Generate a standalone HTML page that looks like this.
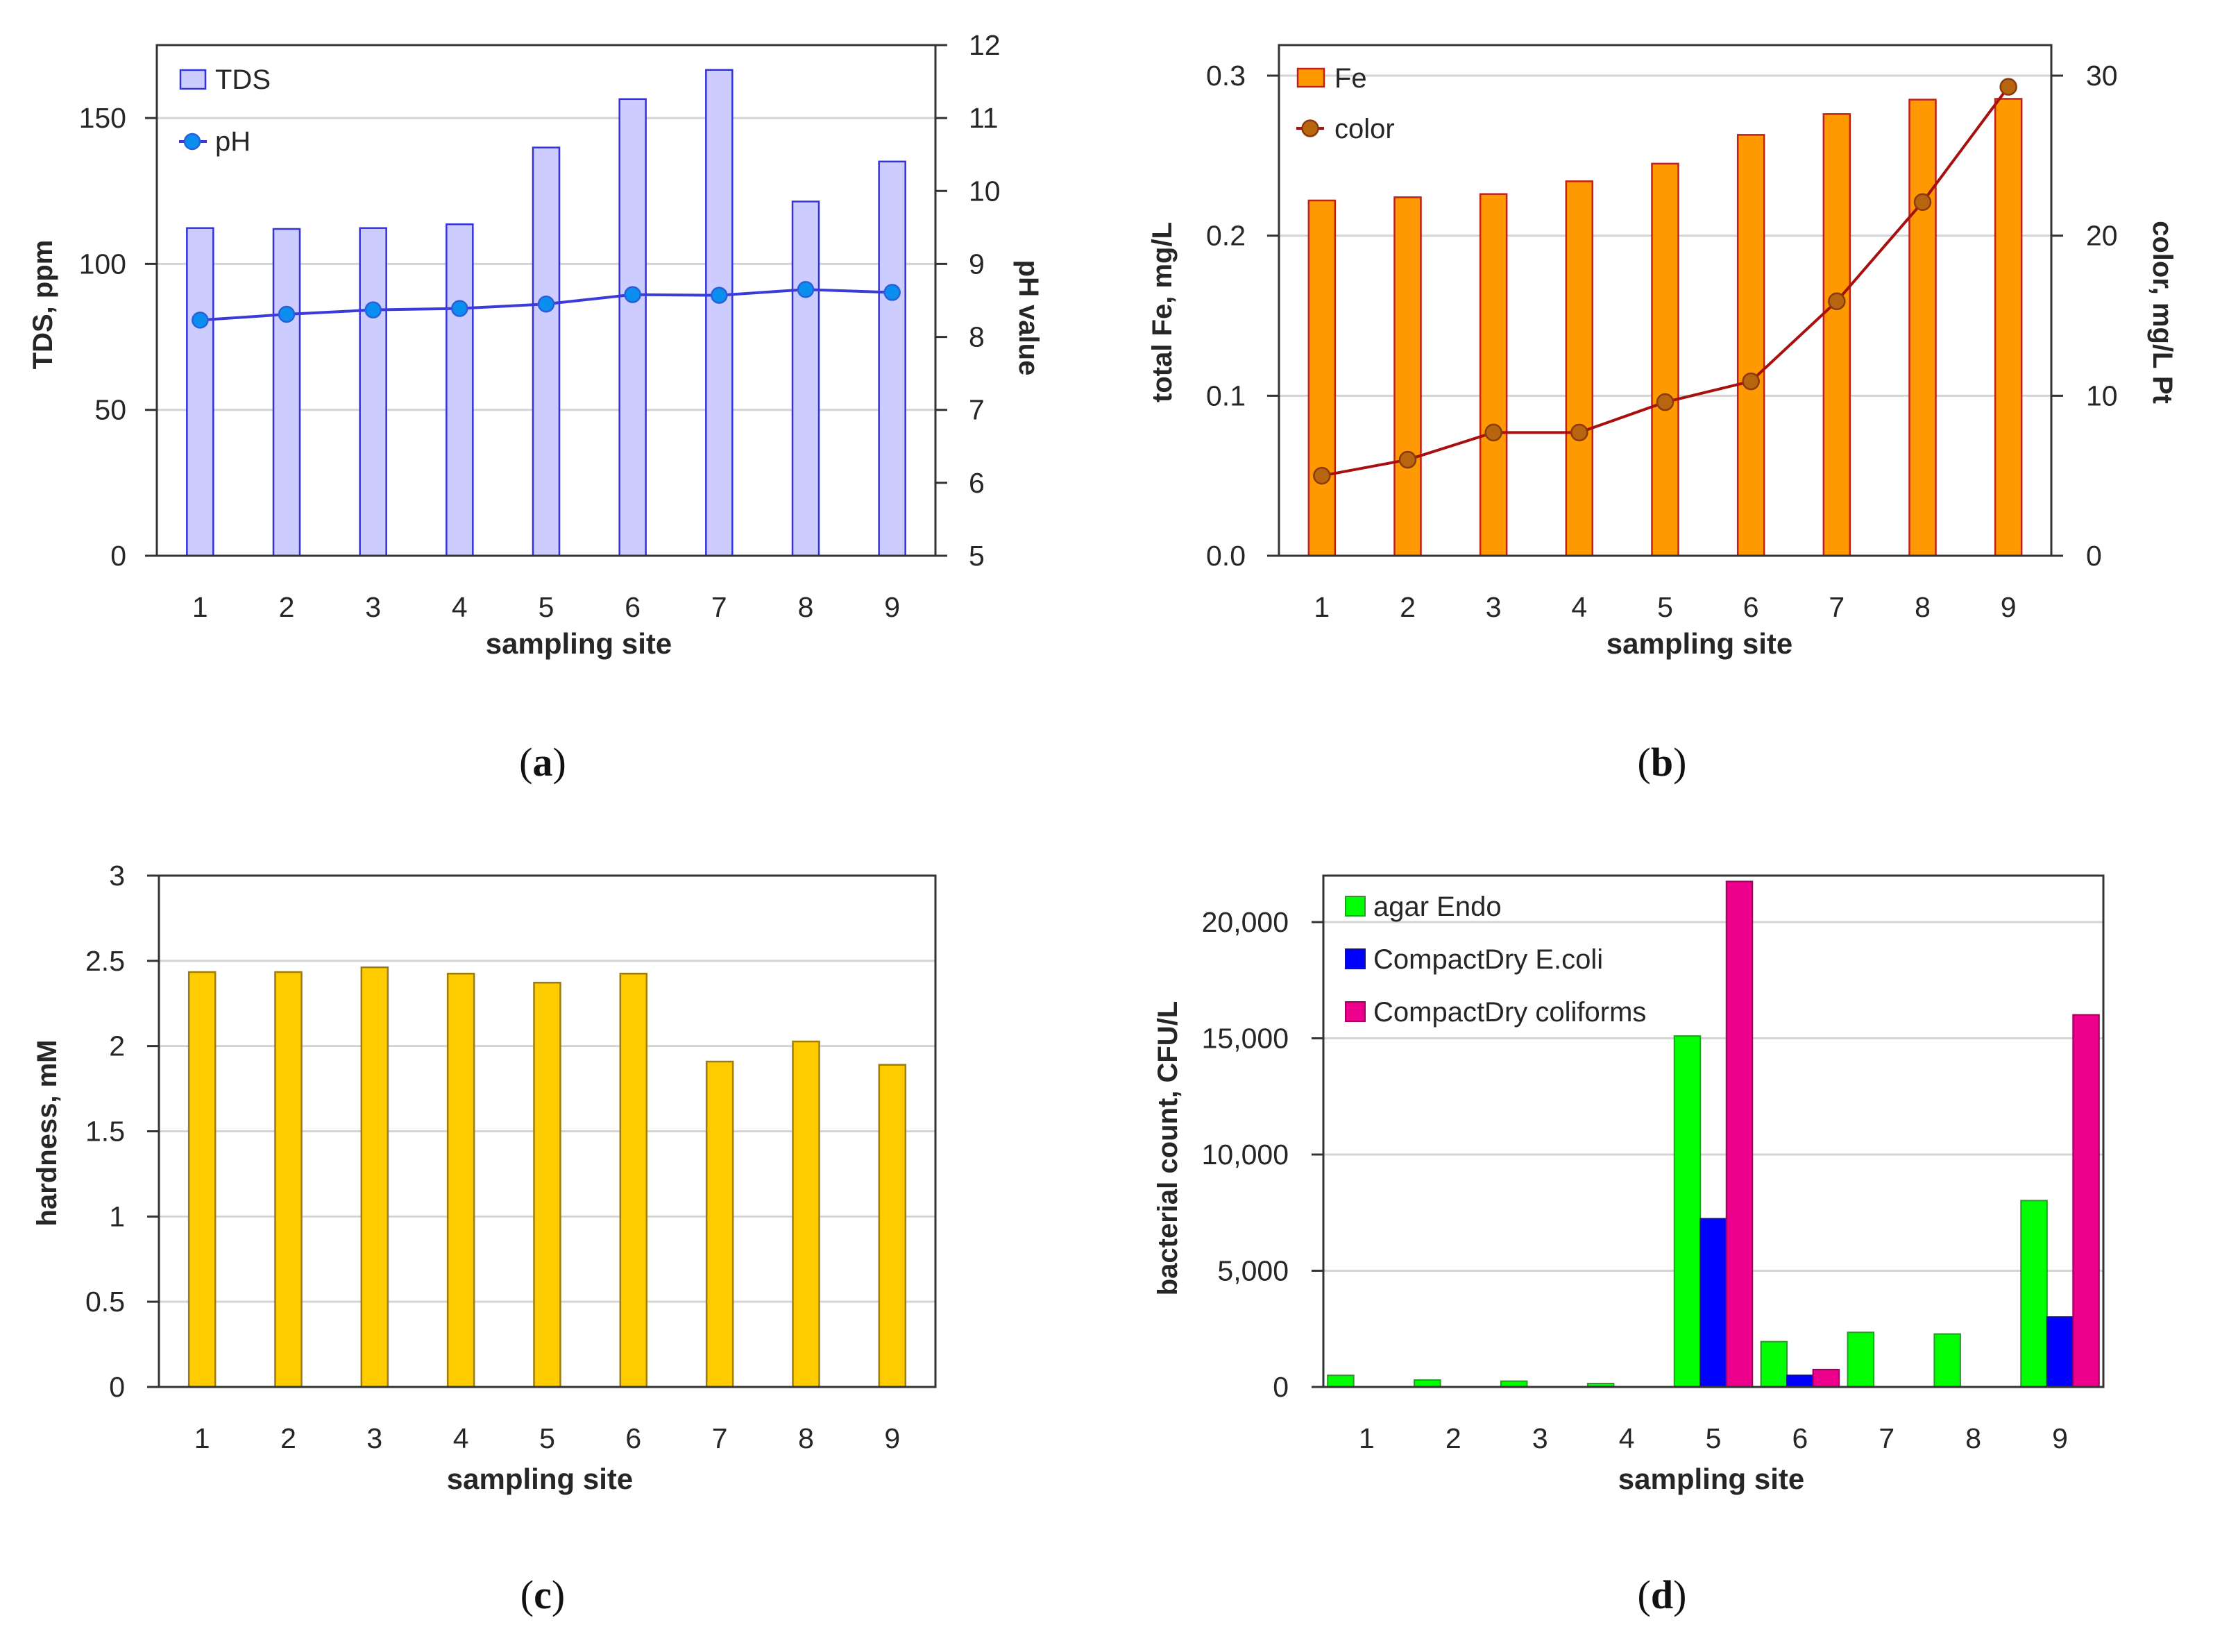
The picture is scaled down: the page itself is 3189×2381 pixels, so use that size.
<!DOCTYPE html>
<html><head><meta charset="utf-8"><style>
html,body{margin:0;padding:0;background:#fff;}
svg{display:block;font-family:"Liberation Sans",sans-serif;}
</style></head><body>
<svg id="fig" width="3189" height="2381" viewBox="0 0 3189 2381" xmlns="http://www.w3.org/2000/svg"></svg>
<script>
const sites = ["1","2","3","4","5","6","7","8","9"];
const tdsValues = [112.3, 112, 112.3, 113.6, 139.9, 156.5, 166.5, 121.4, 135.1];
const phValues = [8.23, 8.31, 8.37, 8.39, 8.45, 8.58, 8.57, 8.65, 8.61];
const tdsTicks = [0, 50, 100, 150];
const phTicks = [5, 6, 7, 8, 9, 10, 11, 12];
const feValues = [0.222, 0.224, 0.226, 0.234, 0.245, 0.263, 0.276, 0.285, 0.2855];
const colorValues = [5.0, 6.0, 7.7, 7.7, 9.6, 10.9, 15.9, 22.1, 29.3];
const feTicks = [0, 0.1, 0.2, 0.3];
const feTickLabels = ["0.0", "0.1", "0.2", "0.3"];
const colorTicks = [0, 10, 20, 30];
const hardValues = [2.434, 2.434, 2.462, 2.425, 2.372, 2.425, 1.909, 2.027, 1.890];
const hardTicks = [0, 0.5, 1, 1.5, 2, 2.5, 3];
const hardTickLabels = ["0", "0.5", "1", "1.5", "2", "2.5", "3"];
const endoValues = [500, 300, 250, 150, 15100, 1950, 2350, 2280, 8020];
const ecoliValues = [0, 0, 0, 0, 7240, 500, 0, 0, 3010];
const coliValues = [0, 0, 0, 0, 21750, 750, 0, 0, 16010];
const bactTicks = [0, 5000, 10000, 15000, 20000];
const bactTickLabels = ["0", "5,000", "10,000", "15,000", "20,000"];

const NS = "http://www.w3.org/2000/svg";
const svg = document.getElementById("fig");
function el(tag, attrs, parent, text) {
  const e = document.createElementNS(NS, tag);
  for (const k in attrs) e.setAttribute(k, attrs[k]);
  if (text !== undefined) e.textContent = text;
  (parent || svg).appendChild(e);
  return e;
}
const TXT = "#262626";
function linScale(d0, d1, r0, r1) { return v => r0 + (v - d0) / (d1 - d0) * (r1 - r0); }

function makeFrame(g, L, R, T, B) {
  const f = el("rect", {x: L, y: T, width: R - L, height: B - T, fill: "none", stroke: "#333", "stroke-width": 3}, g);
  
  
}
function gridAndLeft(g, L, R, y, ticks, labels, labelRight, grid) {
  ticks.forEach((t, i) => {
    const yy = y(t);
    if (grid && t !== 0) {
      const gl = el("line", {x1: L, x2: R, y1: yy, y2: yy, stroke: "#d4d4d4", "stroke-width": 3}, g);
      
      
    }
    const tk = el("line", {x1: L - 17, x2: L, y1: yy, y2: yy, stroke: "#333", "stroke-width": 3}, g);
    
    
    const tl = el("text", {x: labelRight, y: yy + 14, "text-anchor": "end", "font-size": 41, fill: TXT}, g, labels[i]);
    
    
  });
}
function rightTicks(g, R, y, ticks, labels, labelLeft) {
  ticks.forEach((t, i) => {
    const yy = y(t);
    const tk = el("line", {x1: R, x2: R + 17, y1: yy, y2: yy, stroke: "#333", "stroke-width": 3}, g);
    
    
    const tl = el("text", {x: labelLeft, y: yy + 14, "text-anchor": "start", "font-size": 41, fill: TXT}, g, labels[i]);
    
    
  });
}
function xLabels(g, B, cx) {
  sites.forEach((s, i) => {
    const t = el("text", {x: cx(i), y: B + 88, "text-anchor": "middle", "font-size": 41, fill: TXT}, g, s);
    
    
  });
}
function titles(g, xTitleX, xTitleY, yTitle, yx, yy, rot) {
  const xt = el("text", {x: xTitleX, y: xTitleY, "text-anchor": "middle", "font-size": 42, "font-weight": "bold", fill: TXT}, g, "sampling site");
  
  
  const yt = el("text", {x: 0, y: 0, transform: `translate(${yx},${yy}) rotate(${rot})`, "text-anchor": "middle", "font-size": 40, "font-weight": "bold", fill: TXT, "dominant-baseline": "central"}, g, yTitle);
  
  
}
function panelLabel(g, x, y, letter) {
  const t = el("text", {x: x, y: y, "text-anchor": "middle", "font-size": 58, "font-family": "Liberation Serif, serif", fill: "#111"}, g);
  
  
  el("tspan", {}, t, "(");
  el("tspan", {"font-weight": "bold"}, t, letter);
  el("tspan", {}, t, ")");
}

/* ---------- Panel (a) ---------- */
(function () {
  const g = el("g", {});
  
  
  const L = 226, R = 1348, T = 65, B = 801;
  const y = linScale(0, 175, B, T);
  const y2 = linScale(5, 12, B, T);
  const bw = (R - L) / 9;
  const cx = i => L + bw * (i + 0.5);
  gridAndLeft(g, L, R, y, tdsTicks, tdsTicks.map(String), 182, true);
  tdsValues.forEach((v, i) => {
    const b = el("rect", {x: cx(i) - 19, y: y(v), width: 38, height: B - y(v), fill: "#ccccff", stroke: "#3333dd", "stroke-width": 2.5}, g);
    
    
  });
  makeFrame(g, L, R, T, B);
  rightTicks(g, R, y2, phTicks, phTicks.map(String), 1396);
  const pts = phValues.map((v, i) => `${cx(i)},${y2(v)}`).join(" ");
  const ln = el("polyline", {points: pts, fill: "none", stroke: "#3b3bdc", "stroke-width": 4}, g);
  
  
  phValues.forEach((v, i) => {
    const c = el("circle", {cx: cx(i), cy: y2(v), r: 11, fill: "#0a8ef0", stroke: "#2b5fd8", "stroke-width": 2.5}, g);
    
    
  });
  xLabels(g, B, cx);
  titles(g, 834, 942, "TDS, ppm", 62, 439, -90);
  const rt = el("text", {x: 0, y: 0, transform: "translate(1482,458) rotate(90)", "text-anchor": "middle", "font-size": 40, "font-weight": "bold", fill: TXT, "dominant-baseline": "central"}, g, "pH value");
  
  
  const lg = el("g", {}, g);
  
  
  const s1 = el("rect", {x: 260, y: 101, width: 36, height: 27, fill: "#ccccff", stroke: "#3333dd", "stroke-width": 2.5}, lg);
  
  
  const t1 = el("text", {x: 310, y: 128, "font-size": 40, fill: TXT}, lg, "TDS");
  
  
  el("line", {x1: 258, x2: 298, y1: 204, y2: 204, stroke: "#3b3bdc", "stroke-width": 4}, lg);
  el("circle", {cx: 277, cy: 204, r: 11, fill: "#0a8ef0", stroke: "#2b5fd8", "stroke-width": 2.5}, lg);
  const t2 = el("text", {x: 310, y: 217, "font-size": 40, fill: TXT}, lg, "pH");
  
  
  panelLabel(g, 782, 1118, "a");
})();

/* ---------- Panel (b) ---------- */
(function () {
  const g = el("g", {});
  
  
  const L = 1843, R = 2956, T = 65, B = 801;
  const pxPer = (B - 109) / 0.3;
  const y = v => B - v * pxPer;
  const y2 = v => B - v / 100 * pxPer;
  const bw = (R - L) / 9;
  const cx = i => L + bw * (i + 0.5);
  gridAndLeft(g, L, R, y, feTicks, feTickLabels, 1795, true);
  feValues.forEach((v, i) => {
    const b = el("rect", {x: cx(i) - 19, y: y(v), width: 38, height: B - y(v), fill: "#ff9900", stroke: "#c0201a", "stroke-width": 2.5}, g);
    
    
  });
  makeFrame(g, L, R, T, B);
  rightTicks(g, R, y2, colorTicks, colorTicks.map(String), 3006);
  const pts = colorValues.map((v, i) => `${cx(i)},${y2(v)}`).join(" ");
  const ln = el("polyline", {points: pts, fill: "none", stroke: "#a80f0f", "stroke-width": 4}, g);
  
  
  colorValues.forEach((v, i) => {
    const c = el("circle", {cx: cx(i), cy: y2(v), r: 11.5, fill: "#b8650f", stroke: "#8a3a10", "stroke-width": 2.5}, g);
    
    
  });
  xLabels(g, B, cx);
  titles(g, 2449, 942, "total Fe, mg/L", 1675, 450, -90);
  const rt = el("text", {x: 0, y: 0, transform: "translate(3116,450) rotate(90)", "text-anchor": "middle", "font-size": 40, "font-weight": "bold", fill: TXT, "dominant-baseline": "central"}, g, "color, mg/L Pt");
  
  
  const lg = el("g", {}, g);
  
  
  const s1 = el("rect", {x: 1870, y: 99, width: 38, height: 26, fill: "#ff9900", stroke: "#c0201a", "stroke-width": 2.5}, lg);
  
  
  const t1 = el("text", {x: 1923, y: 126, "font-size": 40, fill: TXT}, lg, "Fe");
  
  
  el("line", {x1: 1868, x2: 1908, y1: 185, y2: 185, stroke: "#a80f0f", "stroke-width": 4}, lg);
  el("circle", {cx: 1888, cy: 185, r: 11.5, fill: "#b8650f", stroke: "#8a3a10", "stroke-width": 2.5}, lg);
  const t2 = el("text", {x: 1923, y: 199, "font-size": 40, fill: TXT}, lg, "color");
  
  
  panelLabel(g, 2395, 1118, "b");
})();

/* ---------- Panel (c) ---------- */
(function () {
  const g = el("g", {});
  
  
  const L = 229, R = 1348, T = 1262, B = 1999;
  const y = linScale(0, 3, B, T);
  const bw = (R - L) / 9;
  const cx = i => L + bw * (i + 0.5);
  gridAndLeft(g, L, R, y, hardTicks, hardTickLabels, 180, true);
  hardValues.forEach((v, i) => {
    const b = el("rect", {x: cx(i) - 19, y: y(v), width: 38, height: B - y(v), fill: "#ffcc00", stroke: "#9c7c10", "stroke-width": 2.5}, g);
    
    
  });
  makeFrame(g, L, R, T, B);
  xLabels(g, B, cx);
  titles(g, 778, 2146, "hardness, mM", 68, 1633, -90);
  panelLabel(g, 782, 2318, "c");
})();

/* ---------- Panel (d) ---------- */
(function () {
  const g = el("g", {});
  
  
  const L = 1907, R = 3031, T = 1262, B = 1999;
  const y = linScale(0, 22000, B, T);
  const bw = (R - L) / 9;
  const cx = i => L + bw * (i + 0.5);
  gridAndLeft(g, L, R, y, bactTicks, bactTickLabels, 1857, true);
  const w = 37.5;
  const series = [[endoValues, "#00ff00", "#2a9a2a", "agar-endo-bar"], [ecoliValues, "#0000ff", "#1010a0", "ecoli-bar"], [coliValues, "#ec008c", "#a00060", "coliforms-bar"]];
  series.forEach((s, k) => {
    s[0].forEach((v, i) => {
      if (v <= 0) return;
      const b = el("rect", {x: cx(i) - 1.5 * w + k * w, y: y(v), width: w, height: B - y(v), fill: s[1], stroke: s[2], "stroke-width": 2}, g);
      
      
    });
  });
  makeFrame(g, L, R, T, B);
  xLabels(g, B, cx);
  titles(g, 2466, 2146, "bacterial count, CFU/L", 1683, 1655, -90);
  const lg = el("g", {}, g);
  
  
  const entries = [["agar Endo", "#00ff00", "#2a9a2a", 1306, "legend-entry-agar-endo"], ["CompactDry E.coli", "#0000ff", "#1010a0", 1382, "legend-entry-ecoli"], ["CompactDry coliforms", "#ec008c", "#a00060", 1458, "legend-entry-coliforms"]];
  entries.forEach(e => {
    const s = el("rect", {x: 1939, y: e[3] - 14, width: 28, height: 28, fill: e[1], stroke: e[2], "stroke-width": 2}, lg);
    
    
    const t = el("text", {x: 1979, y: e[3] + 14, "font-size": 40, fill: TXT}, lg, e[0]);
    
    
  });
  panelLabel(g, 2395, 2318, "d");
})();
</script>
</body></html>
